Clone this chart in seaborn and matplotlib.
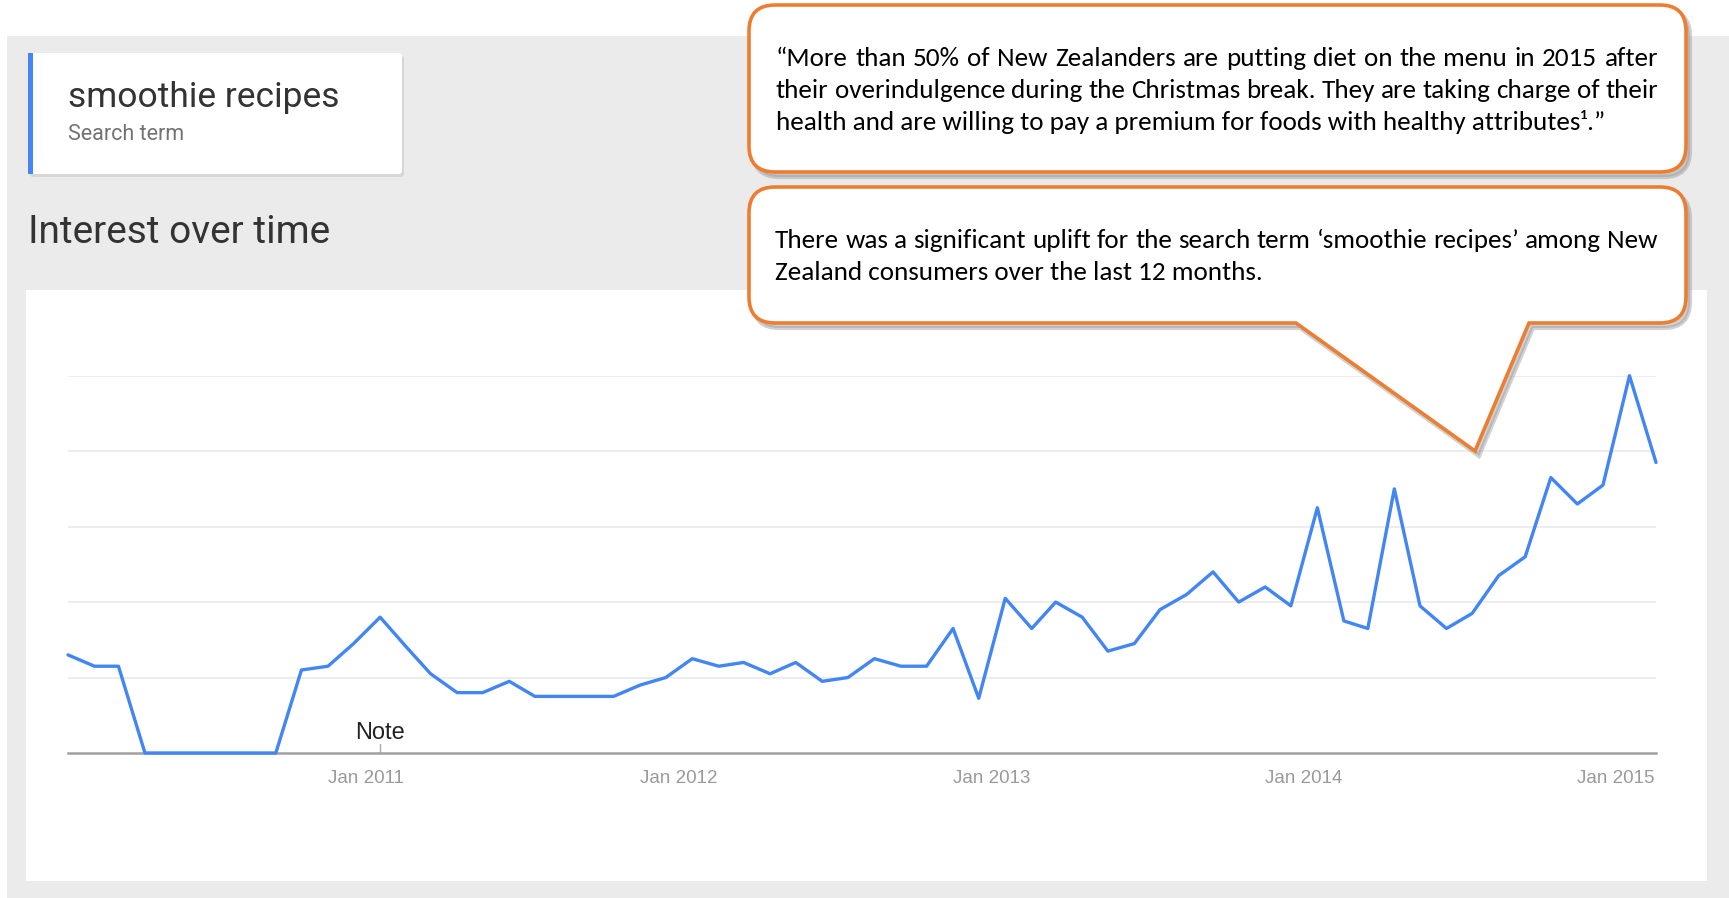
import matplotlib
matplotlib.use("Agg")
import matplotlib.pyplot as plt
import numpy as np
import pandas as pd
import seaborn as sns
from matplotlib import font_manager
from matplotlib.patches import Rectangle, FancyBboxPatch, PathPatch
from matplotlib.path import Path
from matplotlib.transforms import ScaledTranslation

W, H, DPI = 1729, 898, 100

# Google Trends, "smoothie recipes" (New Zealand), monthly Jan 2010 - Feb 2015
months = pd.date_range("2010-01-01", "2015-02-01", freq="MS")
interest = [26, 23, 23, 0, 0, 0, 0, 0, 0, 22, 23, 29,
            36, 28, 21, 16, 16, 19, 15, 15, 15, 15, 18, 20,
            25, 23, 24, 21, 24, 19, 20, 25, 23, 23, 33, 14.5,
            41, 33, 40, 36, 27, 29, 38, 42, 48, 40, 44, 39,
            65, 35, 33, 70, 39, 33, 37, 47, 52, 73, 66, 71,
            100, 77]
grid_levels = [20, 40, 60, 80, 100]
tick_years = [2011, 2012, 2013, 2014, 2015]
tick_labels = [f"Jan {y}" for y in tick_years]

quote_lines = [
    "\u201cMore than 50% of New Zealanders are putting diet on the menu in 2015 after",
    "their overindulgence during the Christmas break. They are taking charge of their",
    "health and are willing to pay a premium for foods with healthy attributes\u00b9.\u201d",
]
uplift_lines = [
    "There was a significant uplift for the search term \u2018smoothie recipes\u2019 among New",
    "Zealand consumers over the last 12 months.",
]

sns.set_style("white")
names = {f.name for f in font_manager.fontManager.ttflist}


def pick(*cands):
    for c in cands:
        if c in names:
            return c
    return "DejaVu Sans"


ui_font = pick("Roboto")
arial = pick("Liberation Sans Narrow", "Liberation Sans")
body_font = pick("Carlito", "Lato", "Open Sans")
plt.rcParams["font.family"] = [ui_font, "DejaVu Sans"]

BLUE = "#4285F4"
ORANGE = "#ED7D31"

fig = plt.figure(figsize=(W / DPI, H / DPI), dpi=DPI, facecolor="white")

# background layer in pixel coordinates
bg = fig.add_axes([0, 0, 1, 1], zorder=0)
bg.set_xlim(0, W)
bg.set_ylim(H, 0)
bg.axis("off")
bg.add_patch(Rectangle((7, 36), W - 7, H - 36, color="#ebebeb", lw=0))
bg.add_patch(Rectangle((26.5, 290), 1707 - 26.5, 880.5 - 290, color="white", lw=0))
# search term card
bg.add_patch(FancyBboxPatch((30, 56), 374, 121, boxstyle="round,pad=0,rounding_size=3",
                            fc="#d6d6d6", ec="none"))
bg.add_patch(FancyBboxPatch((28, 53), 374, 121, boxstyle="round,pad=0,rounding_size=3",
                            fc="white", ec="none"))
bg.add_patch(Rectangle((28, 53), 5, 121, color=BLUE, lw=0))
bg.text(68, 107, "smoothie recipes", fontsize=25.5, color="#333333", va="baseline", ha="left")
bg.text(68, 140, "Search term", fontsize=15.5, color="#737373", va="baseline", ha="left")
bg.text(28, 243, "Interest over time", fontsize=28, color="#333333", va="baseline", ha="left")

# chart
left, right = 68 / W, 1656 / W
bottom, top = 1 - 753 / H, 1 - 375.7 / H
ax = fig.add_axes([left, bottom, right - left, top - bottom], zorder=1)
ax.set_facecolor("none")
sns.lineplot(x=months, y=interest, ax=ax, color=BLUE, linewidth=2.4)
ax.lines[0].set_clip_on(False)
ax.set_xlim(months[0], months[-1])
ax.set_ylim(0, 100)
ax.set_yticks(grid_levels)
ax.yaxis.grid(True, color="#ececec", linewidth=1.3)
ax.tick_params(axis="y", length=0, labelleft=False)
ax.set_xticks([pd.Timestamp(f"{y}-01-01") for y in tick_years])
ax.set_xticklabels(tick_labels, fontfamily=arial, fontsize=13.5, color="#9a9a9a")
ax.tick_params(axis="x", length=0, pad=12)
shift = ScaledTranslation(-14 / DPI, 0, fig.dpi_scale_trans)
for lab in ax.get_xticklabels():
    lab.set_transform(lab.get_transform() + shift)
ax.set_xlabel("")
ax.set_ylabel("")
for s in ["top", "left", "right"]:
    ax.spines[s].set_visible(False)
ax.spines["bottom"].set_color("#a0a0a0")
ax.spines["bottom"].set_linewidth(1.8)
ax.spines["bottom"].set_zorder(0)
note_x = pd.Timestamp("2011-01-01")
ax.axvline(note_x, ymin=0, ymax=0.025, color="#aaaaaa", lw=1)
ax.annotate("Note", xy=(note_x, 0), xytext=(0, 20), textcoords="offset pixels",
            ha="center", va="center", fontsize=17, color="#222222", fontfamily=arial)

# callouts on top
ov = fig.add_axes([0, 0, 1, 1], zorder=2)
ov.set_xlim(0, W)
ov.set_ylim(H, 0)
ov.axis("off")


def callout_path(x0, y0, x1, y1, r, tail=None):
    verts = [(x0 + r, y0), (x1 - r, y0), (x1, y0), (x1, y0 + r),
             (x1, y1 - r), (x1, y1), (x1 - r, y1)]
    codes = [Path.MOVETO, Path.LINETO, Path.CURVE3, Path.CURVE3,
             Path.LINETO, Path.CURVE3, Path.CURVE3]
    if tail is not None:
        (ax_r, ax_tip, ax_l) = tail
        verts += [(ax_r, y1), ax_tip, (ax_l, y1)]
        codes += [Path.LINETO] * 3
    verts += [(x0 + r, y1), (x0, y1), (x0, y1 - r), (x0, y0 + r), (x0, y0), (x0 + r, y0)]
    codes += [Path.LINETO, Path.CURVE3, Path.CURVE3, Path.LINETO, Path.CURVE3, Path.CURVE3]
    return Path(verts, codes)


def draw_callout(path):
    sh = Path(path.vertices + np.array([4, 5]), path.codes)
    ov.add_patch(PathPatch(sh, fc="#9a9a9a", ec="#9a9a9a", lw=3, alpha=0.45))
    ov.add_patch(PathPatch(path, fc="white", ec=ORANGE, lw=2.6, joinstyle="miter"))


draw_callout(callout_path(749, 5, 1686, 172, 26))
draw_callout(callout_path(749, 187, 1686, 323, 26,
                          tail=(1529, (1475, 451), 1296)))

renderer = fig.canvas.get_renderer()

# size the callout text so the first quote line fills the box width
probe = ov.text(0, 0, quote_lines[0], fontfamily=body_font, fontsize=10)
body_size = 10 * (1658 - 776) / probe.get_window_extent(renderer).width * 0.985
probe.remove()


def justified(lines, ys, x0, x1, size):
    for i, (line, y) in enumerate(zip(lines, ys)):
        if i == len(lines) - 1:
            ov.text(x0, y, line, fontfamily=body_font, fontsize=size, va="center",
                    ha="left", color="black")
            continue
        words = line.split(" ")
        arts = [ov.text(0, y, w, fontfamily=body_font, fontsize=size, va="center",
                        ha="left", color="black") for w in words]
        widths = [a.get_window_extent(renderer).width for a in arts]
        gap = (x1 - x0 - sum(widths)) / (len(words) - 1)
        x = x0
        for a, w in zip(arts, widths):
            a.set_x(x)
            x += w + gap


justified(quote_lines, [58, 90, 122], 776, 1658, body_size)
justified(uplift_lines, [240, 272], 775, 1658, body_size)

fig.savefig("out.png", dpi=DPI, facecolor="white")
